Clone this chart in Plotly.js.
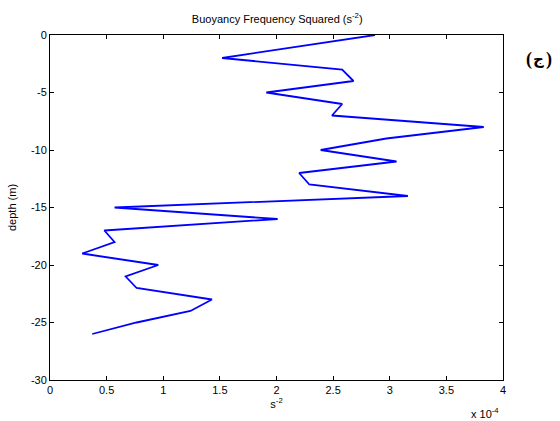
<!DOCTYPE html>
<html>
<head>
<meta charset="utf-8">
<script src="https://cdn.plot.ly/plotly-3.0.1.min.js"></script>
<style>html,body{margin:0;padding:0;background:#fff;}#chart{width:560px;height:421px;}</style>
</head>
<body>
<div id="chart"></div>
<script>
// N^2 values in units of 1e-4 s^-2
const n2 = [2.87, 1.52, 2.58, 2.68, 1.91, 2.58, 2.49, 3.83, 2.97, 2.39, 3.06, 2.20, 2.29, 3.16, 0.57, 2.01, 0.48, 0.57, 0.285, 0.956, 0.668, 0.765, 1.43, 1.24, 0.765, 0.373];
const depth = [0, -2, -3, -4, -5, -6, -7, -8, -9, -10, -11, -12, -13, -14, -15, -16, -17, -18, -19, -20, -21, -22, -23, -24, -25, -26];
const xTicks = [0, 0.5, 1, 1.5, 2, 2.5, 3, 3.5, 4];
const yTicks = [-30, -25, -20, -15, -10, -5, 0];

const font = {family: 'Liberation Sans, Arial, sans-serif', size: 11, color: '#000'};
const labFont = {family: 'Liberation Serif, DejaVu Serif, serif', size: 18, color: '#000'};
const labY = 0.93;
Plotly.newPlot('chart', [{
  x: n2, y: depth, type: 'scatter', mode: 'lines',
  line: {color: '#0000ff', width: 1.8}, hoverinfo: 'none'
}], {
  width: 560, height: 421,
  margin: {l: 50, r: 57, t: 35, b: 41},
  paper_bgcolor: '#fff', plot_bgcolor: '#fff',
  font: font,
  showlegend: false,
  title: {text: 'Buoyancy Frequency Squared (s<sup>-2</sup>)', x: 0.495, xanchor: 'center', y: 0.955, yanchor: 'middle', font: {family: font.family, size: 11, color: '#000'}},
  xaxis: {
    range: [0, 4], tickvals: xTicks, ticktext: xTicks.map(String),
    ticks: 'inside', ticklen: 4, tickcolor: '#000', showline: true, linecolor: '#000', linewidth: 1,
    mirror: 'ticks', showgrid: false, zeroline: false, tickfont: font,
    title: {text: 's<sup>-2</sup>', font: font, standoff: 4}
  },
  yaxis: {
    range: [-30, 0], tickvals: yTicks, ticktext: yTicks.map(String),
    ticks: 'inside', ticklen: 4, tickcolor: '#000', showline: true, linecolor: '#000', linewidth: 1,
    mirror: 'ticks', showgrid: false, zeroline: false, tickfont: font,
    title: {text: 'depth (m)', font: font, standoff: 12}
  },
  annotations: [
    {text: 'x 10<sup>-4</sup>', xref: 'paper', yref: 'paper', x: 1.0, y: 0, xanchor: 'right', yanchor: 'top', yshift: -24, xshift: -2, showarrow: false, font: font},
    {text: '<b>(</b>', xref: 'paper', yref: 'paper', x: 1, y: labY, xanchor: 'left', yanchor: 'middle', xshift: 21, showarrow: false, font: labFont},
    {text: '<b>ج</b>', xref: 'paper', yref: 'paper', x: 1, y: labY, xanchor: 'left', yanchor: 'middle', xshift: 28, showarrow: false, font: {family: 'DejaVu Sans, Noto Sans, sans-serif', size: 15, color: '#000'}},
    {text: '<b>)</b>', xref: 'paper', yref: 'paper', x: 1, y: labY, xanchor: 'right', yanchor: 'middle', xshift: 51, showarrow: false, font: labFont}
  ]
}, {displayModeBar: false, staticPlot: true});
</script>
</body>
</html>
